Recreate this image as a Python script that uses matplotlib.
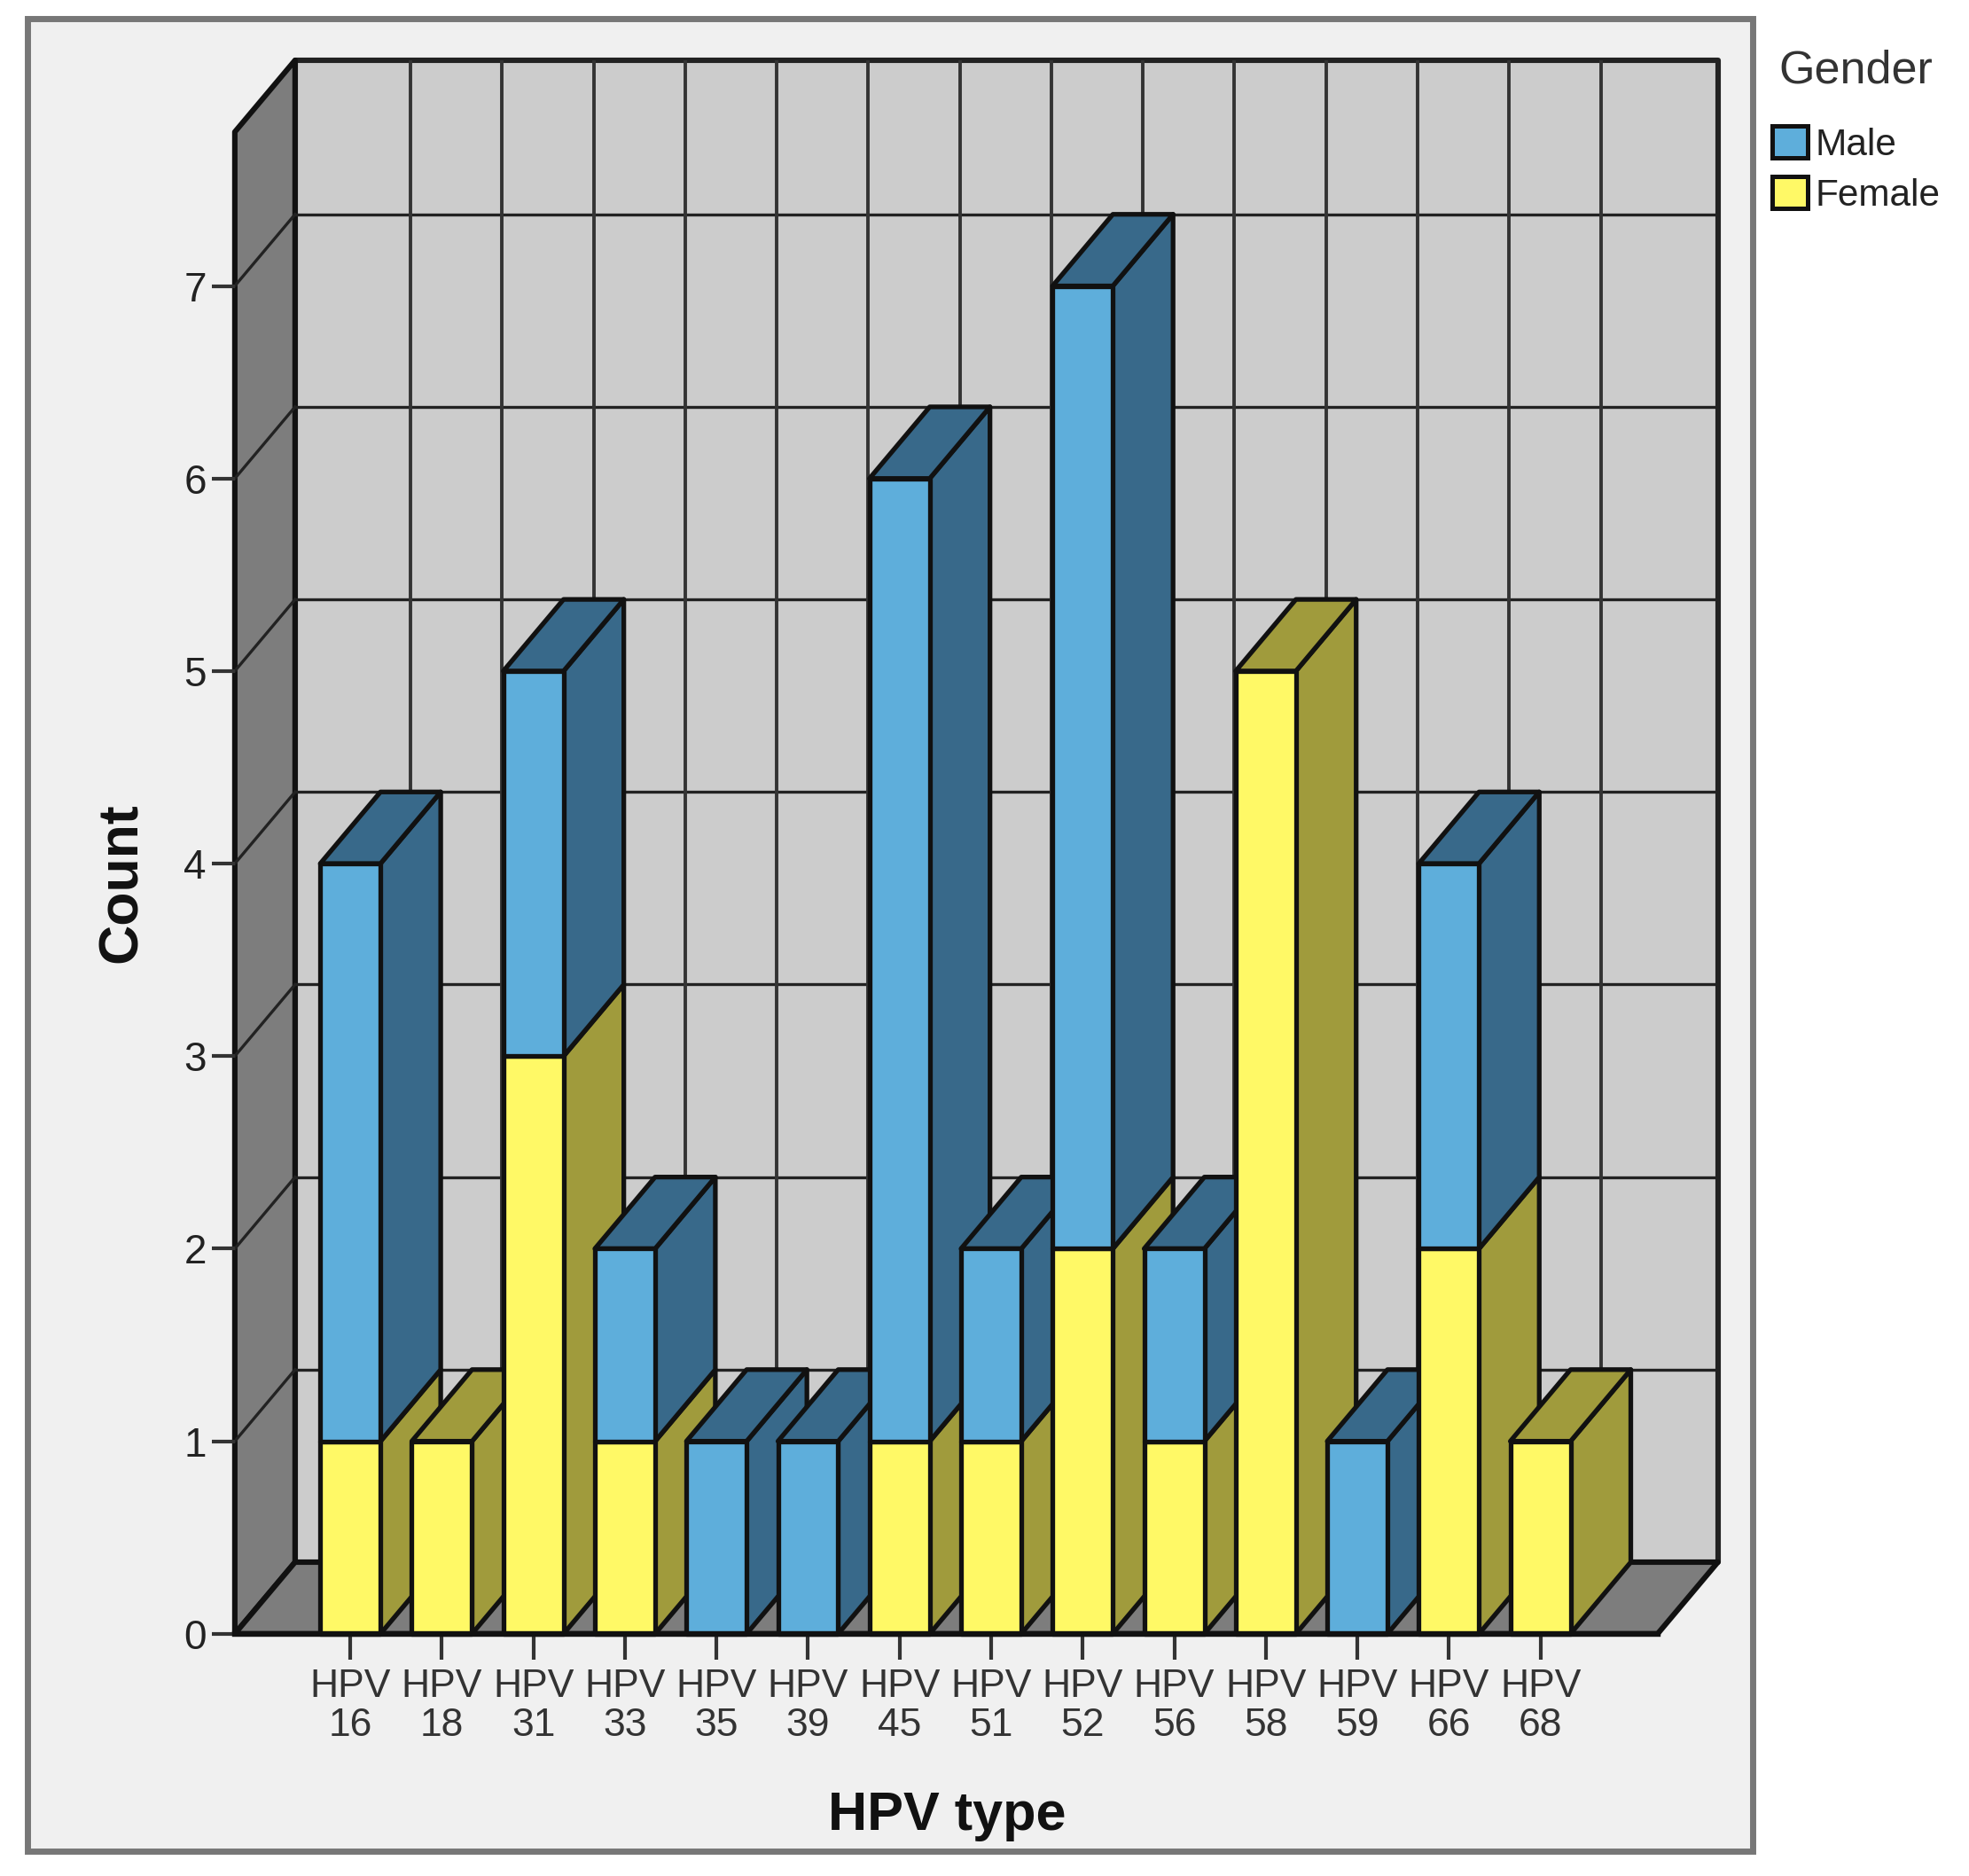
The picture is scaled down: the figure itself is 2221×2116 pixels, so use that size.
import matplotlib
matplotlib.use('Agg')
import matplotlib.pyplot as plt
from matplotlib.patches import Patch, Rectangle

# values
hpv_types = ['16', '18', '31', '33', '35', '39', '45', '51', '52', '56', '58', '59', '66', '68']
female = [1, 1, 3, 1, 0, 0, 1, 1, 2, 1, 5, 0, 2, 1]
male = [3, 0, 2, 1, 1, 1, 5, 1, 5, 1, 0, 1, 2, 0]
count_ticks = [0, 1, 2, 3, 4, 5, 6, 7]

W, H = 2221, 2116
S = 2221 / 1568  # the layout numbers below were measured on a 1568 wide copy

BLUE, BLUE_DARK = '#5eaedb', '#38698a'
YELLOW, YELLOW_DARK = '#fff966', '#a09b3c'
WALL, FLOOR = '#cccccc', '#7d7d7d'
EDGE = '#111111'

plt.rcParams['font.family'] = ['Liberation Sans', 'DejaVu Sans']

# depth of the fake 3D box, in data units
bar_w = 0.658
dx = 0.658
dy = 0.372
x_left, x_right = -1.262, 14.28
y_top = 7.80

fig = plt.figure(figsize=(W / 100, H / 100), dpi=100, facecolor='white')
fig.add_artist(Rectangle((22 * S / W, 1 - 1474 * S / H), 1374 * S / W, 1459 * S / H,
                         transform=fig.transFigure, facecolor='#f0f0f0',
                         edgecolor='#777777', linewidth=5, zorder=-1))

left = 187 * S / W
bottom = 1 - 1301 * S / H
width = (1368 - 187) * S / W
height = (1301 - 48) * S / H
ax = fig.add_axes([left, bottom, width, height])
ax.set_xlim(x_left, x_right + dx)
ax.set_ylim(0, y_top + dy)
ax.patch.set_visible(False)
for s in ax.spines.values():
    s.set_visible(False)

z = [2]


def face(xs, ys, color, lw=3.8):
    z[0] += 1
    ax.fill(xs, ys, facecolor=color, edgecolor=EDGE, linewidth=lw, zorder=z[0],
            clip_on=False, joinstyle='round')


# walls and floor
ax.fill([x_left + dx, x_right + dx, x_right + dx, x_left + dx], [dy, dy, y_top + dy, y_top + dy],
        facecolor=WALL, edgecolor='#222222', linewidth=4.4, zorder=1, clip_on=False, joinstyle='round')
ax.fill([x_left, x_left + dx, x_left + dx, x_left], [0, dy, y_top + dy, y_top],
        facecolor=FLOOR, edgecolor=EDGE, linewidth=4.4, zorder=1, clip_on=False, joinstyle='round')
ax.fill([x_left, x_right, x_right + dx, x_left + dx], [0, 0, dy, dy],
        facecolor=FLOOR, edgecolor=EDGE, linewidth=4.4, zorder=1, clip_on=False, joinstyle='round')

# grid on the back and side walls
for t in count_ticks[1:]:
    ax.plot([x_left + dx, x_right + dx], [t + dy, t + dy], color='#222222', lw=2.4, zorder=1.5)
    ax.plot([x_left, x_left + dx], [t, t + dy], color='#222222', lw=2.4, zorder=1.5)
for i in range(len(hpv_types)):
    ax.plot([i + dx, i + dx], [dy, y_top + dy], color='#333333', lw=2.8, zorder=1.5)

# left to right so that each bar covers the side of the one before it
for i, (f, m) in enumerate(zip(female, male)):
    x0 = i - bar_w / 2
    x1 = i + bar_w / 2
    if f > 0:
        face([x1, x1 + dx, x1 + dx, x1], [0, dy, f + dy, f], YELLOW_DARK)
        if m == 0:
            face([x0, x1, x1 + dx, x0 + dx], [f, f, f + dy, f + dy], YELLOW_DARK)
        face([x0, x1, x1, x0], [0, 0, f, f], YELLOW)
    if m > 0:
        top = f + m
        face([x1, x1 + dx, x1 + dx, x1], [f, f + dy, top + dy, top], BLUE_DARK)
        face([x0, x1, x1 + dx, x0 + dx], [top, top, top + dy, top + dy], BLUE_DARK)
        face([x0, x1, x1, x0], [f, f, top, top], BLUE)

z[0] += 1
ax.plot([x_left, x_right], [0, 0], color=EDGE, lw=4.6, zorder=z[0], clip_on=False)

ax.set_xticks(range(len(hpv_types)))
ax.set_xticklabels(['HPV\n' + t for t in hpv_types], fontsize=32, color='#333333', linespacing=1.1)
ax.set_yticks(count_ticks)
ax.set_yticklabels([str(t) for t in count_ticks], fontsize=33, color='#222222')
ax.tick_params(axis='x', length=21, width=3, color='#333333', pad=7)
ax.tick_params(axis='y', length=19, width=3, color='#333333', pad=4)

ax.set_xlabel('HPV type', fontsize=44, fontweight='bold', color='#111111', va='center')
ax.xaxis.set_label_coords(754 * S / W, 1 - 1446 * S / H, transform=fig.transFigure)
ax.set_ylabel('Count', fontsize=45, fontweight='bold', color='#111111', va='center')
ax.yaxis.set_label_coords(97 * S / W, 1 - 703 * S / H, transform=fig.transFigure)

handles = [Patch(facecolor=BLUE, edgecolor=EDGE, linewidth=3.6, label='Male'),
           Patch(facecolor=YELLOW, edgecolor=EDGE, linewidth=3.6, label='Female')]
leg = fig.legend(handles=handles, title='Gender', loc='upper left',
                 bbox_to_anchor=(1411 * S / W, 1 - 39 * S / H), frameon=False,
                 fontsize=30.5, title_fontsize=37.5, handlelength=0.95, handleheight=0.95,
                 labelspacing=0.36, handletextpad=0.2, borderpad=0, borderaxespad=0)
leg.get_title().set_color('#333333')
for t in leg.get_texts():
    t.set_color('#222222')
leg._legend_box.sep = 27

fig.savefig('out.png', dpi=100)
